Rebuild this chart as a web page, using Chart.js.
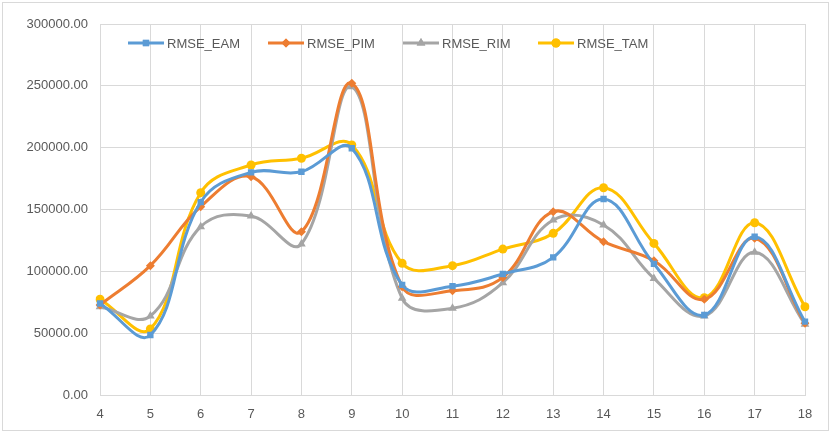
<!DOCTYPE html>
<html>
<head>
<meta charset="utf-8">
<script src="https://cdn.jsdelivr.net/npm/chart.js@4"></script>
<style>
  body { margin: 0; background: #fff; }
  #wrap { width: 831px; height: 433px; }
</style>
</head>
<body>
<div id="wrap"><canvas id="myChart" width="831" height="433"></canvas></div>
<script>
// Dados do gráfico
const labels = ['4', '5', '6', '7', '8', '9', '10', '11', '12', '13', '14', '15', '16', '17', '18'];
const rmseEAM = [74000, 48500, 156000, 180000, 180500, 199500, 89000, 88000, 97800, 111300, 158500, 106000, 64700, 128000, 59300];
const rmsePIM = [72800, 104600, 152300, 176500, 132000, 252000, 87600, 84300, 95100, 148200, 124000, 108600, 77400, 126700, 58000];
const rmseRIM = [71400, 63900, 136100, 144700, 122100, 249300, 78200, 70100, 90800, 141500, 137500, 94300, 63900, 115400, 57200];
const rmseTAM = [77400, 53400, 163600, 186000, 191400, 202200, 106500, 104600, 118000, 130700, 167600, 122600, 78700, 139300, 71400];
const yTicks = [0, 50000, 100000, 150000, 200000, 250000, 300000];

const font = "'Liberation Sans', Arial, sans-serif";
const txt = '#595959';
const grid = '#d9d9d9';

function serie(label, data, color, style, r) {
  return {
    label: label,
    data: data,
    borderColor: color,
    backgroundColor: color,
    borderWidth: 3,
    pointStyle: style,
    pointRadius: r,
    pointBorderWidth: 0,
    tension: 0.4,
    fill: false
  };
}

// Legenda desenhada dentro da área do gráfico
const legendaInterna = {
  id: 'legendaInterna',
  afterDraw(chart) {
    const ctx = chart.ctx;
    const xs = [128, 268, 403, 538];
    const y = 43;
    ctx.save();
    chart.data.datasets.forEach((ds, i) => {
      const x0 = xs[i];
      ctx.strokeStyle = ds.borderColor;
      ctx.lineWidth = 3;
      ctx.beginPath();
      ctx.moveTo(x0, y);
      ctx.lineTo(x0 + 36, y);
      ctx.stroke();
      ctx.fillStyle = ds.borderColor;
      Chart.helpers.drawPoint(ctx, {
        pointStyle: ds.pointStyle, radius: ds.pointRadius, rotation: 0, borderWidth: 0
      }, x0 + 18, y);
      ctx.fill();
      ctx.fillStyle = txt;
      ctx.font = '13px ' + font;
      ctx.textBaseline = 'middle';
      ctx.fillText(ds.label, x0 + 39, y + 1);
    });
    // moldura
    ctx.strokeStyle = grid;
    ctx.lineWidth = 1;
    ctx.strokeRect(2.5, 2.5, 826, 428);
    ctx.restore();
  }
};

const data = {
  labels: labels,
  datasets: [
    serie('RMSE_EAM', rmseEAM, '#5B9BD5', 'rect', 4.5),
    serie('RMSE_PIM', rmsePIM, '#ED7D31', 'rectRot', 4.5),
    serie('RMSE_RIM', rmseRIM, '#A5A5A5', 'triangle', 5),
    serie('RMSE_TAM', rmseTAM, '#FFC000', 'circle', 4.5)
  ]
};

const options = {
  responsive: false,
  animation: false,
  layout: { padding: { top: 24, right: 26, left: 0, bottom: 0 } },
  plugins: {
    legend: { display: false },
    tooltip: { enabled: false }
  },
  scales: {
    x: {
      offset: false,
      grid: { color: grid, drawTicks: false },
      border: { color: grid },
      ticks: { color: txt, font: { family: font, size: 13 }, padding: 12 },
      afterFit(scale) { scale.height = 38; }
    },
    y: {
      min: 0,
      max: 300000,
      afterBuildTicks(scale) { scale.ticks = yTicks.map(v => ({ value: v })); },
      grid: { color: grid, drawTicks: false },
      border: { color: grid },
      ticks: {
        color: txt,
        font: { family: font, size: 13 },
        padding: 12,
        callback: v => Number(v).toFixed(2)
      },
      afterFit(scale) { scale.width = 100; }
    }
  }
};

// Cria o gráfico
const ctx = document.getElementById('myChart').getContext('2d');
const myChart = new Chart(ctx, {
  type: 'line',
  data: data,
  options: options,
  plugins: [legendaInterna]
});
</script>
</body>
</html>
